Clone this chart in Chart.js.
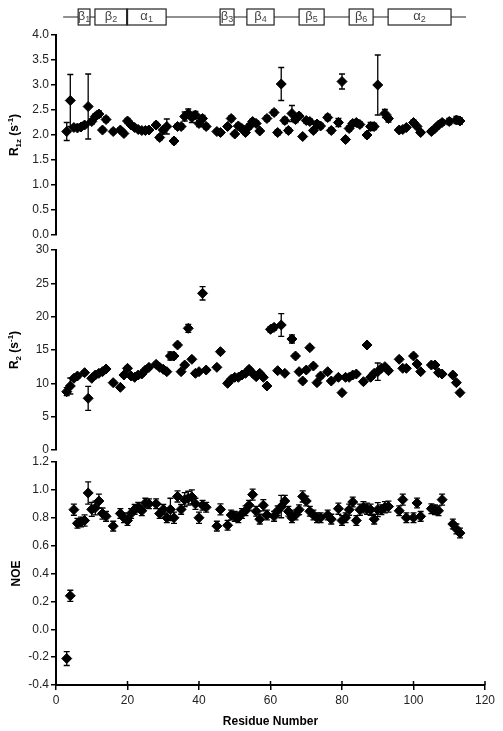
<!DOCTYPE html>
<html>
<head>
<meta charset="utf-8">
<script src="https://cdn.jsdelivr.net/npm/chart.js@4.4.0/dist/chart.umd.min.js"></script>
<style>
  body { margin: 0; background: #fff; }
  #wrap { position: relative; width: 503px; height: 731px; }
  #wrap canvas { position: absolute; left: 0; }
</style>
</head>
<body>
<div id="wrap">
  <canvas id="r1Chart" width="503" height="250" style="top:0px"></canvas>
  <canvas id="r2Chart" width="503" height="220" style="top:240px"></canvas>
  <canvas id="noeChart" width="503" height="281" style="top:450px"></canvas>
</div>
<script>
// R1z panel
const r1Res = [3,4,5,6,7,8,9,10,11,12,13,14,16,18,19,20,21,22,23,24,25,26,28,29,30,31,33,34,35,36,37,38,39,40,41,42,45,46,48,49,50,51,52,53,54,55,56,57,59,61,62,63,64,65,66,67,68,69,70,71,72,73,74,76,77,79,80,81,82,83,84,85,87,88,89,90,92,93,96,97,98,100,101,102,105,106,107,108,110,112,113];
const r1Val = [2.07,2.69,2.15,2.14,2.16,2.2,2.57,2.27,2.37,2.42,2.1,2.31,2.07,2.1,2.03,2.28,2.2,2.15,2.11,2.09,2.09,2.1,2.2,1.95,2.1,2.17,1.88,2.17,2.17,2.37,2.43,2.35,2.4,2.23,2.33,2.17,2.07,2.05,2.17,2.33,2.02,2.18,2.13,2.05,2.17,2.27,2.23,2.08,2.33,2.45,2.05,3.02,2.29,2.09,2.43,2.31,2.38,1.97,2.29,2.27,2.09,2.22,2.18,2.35,2.09,2.25,3.07,1.91,2.13,2.23,2.25,2.21,2.0,2.17,2.17,3.0,2.43,2.33,2.1,2.11,2.15,2.25,2.17,2.05,2.07,2.13,2.2,2.25,2.27,2.3,2.28];
const r1Err = [0.18,0.52,0.04,0.04,0.04,0.05,0.65,0.05,0.05,0.06,0.04,0.05,0.04,0.04,0.04,0.05,0.04,0.04,0.04,0.04,0.04,0.04,0.05,0.05,0.05,0.15,0.05,0.05,0.05,0.09,0.09,0.1,0.07,0.06,0.06,0.05,0.04,0.04,0.04,0.05,0.04,0.05,0.05,0.04,0.05,0.05,0.05,0.04,0.05,0.05,0.05,0.33,0.06,0.05,0.16,0.06,0.05,0.04,0.05,0.05,0.04,0.05,0.05,0.06,0.05,0.08,0.15,0.04,0.05,0.05,0.05,0.05,0.05,0.08,0.06,0.6,0.08,0.07,0.04,0.04,0.04,0.05,0.04,0.04,0.04,0.04,0.04,0.05,0.06,0.07,0.06];

// R2 panel
const r2Res = [3,4,5,6,8,9,10,11,12,13,14,16,18,19,20,21,22,23,24,25,26,28,29,30,31,32,33,34,35,36,37,38,39,40,41,42,45,46,48,49,50,51,52,53,54,55,56,57,58,59,60,61,62,63,64,66,67,68,69,70,71,72,73,74,76,77,79,80,81,82,83,84,86,87,88,89,90,91,92,93,96,97,98,100,101,102,105,106,107,108,111,112,113];
const r2Val = [8.75,9.6,10.75,11.1,11.6,7.75,10.75,11.25,11.5,11.75,12.15,10.1,9.4,11.25,12.25,11.1,10.9,11.25,11.4,12,12.4,12.85,12.4,12.1,11.75,14.1,14.1,15.75,11.75,12.75,18.25,13.6,11.5,11.75,23.5,12,12.4,14.75,10,10.6,10.9,10.9,11.25,11.5,12.1,11.5,11,11.5,10.9,9.6,18.1,18.4,11.9,18.75,11.5,16.65,14.1,11.75,10.35,12,15.35,12.6,10.1,11.1,11.75,10.35,10.9,8.6,10.9,10.9,11.25,11.4,10.25,15.75,10.9,11.5,11.75,12.25,12.5,11.9,13.6,12.25,12.25,14.1,12.9,11.75,12.75,12.75,11.6,11.4,11.25,10.1,8.6];
const r2Err = [0.6,1.2,0.3,0.3,0.3,1.8,0.3,0.3,0.3,0.3,0.3,0.3,0.3,0.3,0.3,0.3,0.3,0.3,0.3,0.3,0.3,0.3,0.3,0.3,0.3,0.6,0.4,0.3,0.3,0.3,0.6,0.3,0.3,0.3,1.0,0.3,0.3,0.3,0.3,0.3,0.3,0.3,0.3,0.3,0.3,0.3,0.3,0.3,0.3,0.3,0.4,0.4,0.3,1.7,0.3,0.6,0.3,0.3,0.3,0.3,0.3,0.3,0.3,0.3,0.3,0.3,0.3,0.3,0.3,0.3,0.3,0.3,0.3,0.3,0.3,0.3,1.3,0.3,0.3,0.3,0.3,0.3,0.3,0.3,0.3,0.3,0.3,0.3,0.3,0.3,0.3,0.3,0.3];

// NOE panel
const noeRes = [3,4,5,6,7,8,9,10,11,12,13,14,16,18,19,20,21,22,23,24,25,26,28,29,30,31,32,33,34,35,36,37,38,39,40,41,42,45,46,48,49,50,51,52,53,54,55,56,57,58,59,61,62,63,64,65,66,67,68,69,70,71,72,73,74,76,77,79,80,81,82,83,84,85,86,87,88,89,90,91,92,93,96,97,98,100,101,102,105,106,107,108,111,112,113];
const noeVal = [-0.21,0.24,0.858,0.76,0.77,0.78,0.978,0.86,0.87,0.92,0.83,0.81,0.74,0.83,0.80,0.78,0.83,0.86,0.875,0.85,0.905,0.9,0.9,0.83,0.86,0.8,0.86,0.8,0.953,0.86,0.93,0.94,0.95,0.9,0.8,0.89,0.875,0.74,0.86,0.746,0.82,0.81,0.80,0.83,0.85,0.89,0.966,0.846,0.79,0.89,0.82,0.81,0.85,0.88,0.92,0.846,0.80,0.82,0.858,0.953,0.92,0.846,0.82,0.80,0.8,0.82,0.79,0.865,0.78,0.80,0.858,0.913,0.78,0.858,0.875,0.865,0.858,0.79,0.858,0.858,0.875,0.88,0.85,0.93,0.80,0.80,0.906,0.81,0.865,0.858,0.85,0.93,0.755,0.72,0.69];
const noeErr = [0.05,0.04,0.04,0.035,0.035,0.04,0.08,0.05,0.05,0.05,0.04,0.035,0.035,0.035,0.035,0.035,0.035,0.035,0.035,0.035,0.035,0.035,0.035,0.035,0.035,0.035,0.08,0.04,0.04,0.035,0.05,0.05,0.05,0.04,0.04,0.035,0.035,0.035,0.04,0.035,0.035,0.035,0.035,0.035,0.035,0.035,0.04,0.035,0.035,0.04,0.035,0.035,0.035,0.08,0.04,0.035,0.035,0.035,0.035,0.04,0.035,0.035,0.035,0.035,0.035,0.035,0.035,0.04,0.035,0.035,0.04,0.035,0.035,0.04,0.04,0.04,0.04,0.035,0.05,0.035,0.04,0.04,0.035,0.04,0.035,0.035,0.035,0.035,0.035,0.035,0.035,0.04,0.035,0.035,0.035];

// secondary structure along the top
const ssLabel = ['β', 'β', 'α', 'β', 'β', 'β', 'β', 'α'];
const ssIndex = ['1', '2', '1', '3', '4', '5', '6', '2'];
const ssStart = [6.2, 10.9, 19.9, 45.9, 53.4, 68, 82, 92.9];
const ssEnd = [9.5, 19.9, 30.8, 49.8, 61, 75, 88.7, 110.5];
const ssLine = [2, 114.7];

const FONT = "'Liberation Sans', Arial, sans-serif";

const errorBars = {
  id: 'errorBars',
  beforeDatasetsDraw(chart) {
    const { ctx, scales: { x, y } } = chart;
    chart.data.datasets.forEach((ds) => {
      if (!ds.errors) return;
      ctx.save();
      ctx.strokeStyle = '#000';
      ctx.lineWidth = 1.3;
      ds.data.forEach((p, i) => {
        const e = ds.errors[i];
        const px = x.getPixelForValue(p.x);
        const top = y.getPixelForValue(p.y + e);
        const bot = y.getPixelForValue(p.y - e);
        ctx.beginPath();
        ctx.moveTo(px, top); ctx.lineTo(px, bot);
        ctx.moveTo(px - 3, top); ctx.lineTo(px + 3, top);
        ctx.moveTo(px - 3, bot); ctx.lineTo(px + 3, bot);
        ctx.stroke();
      });
      ctx.restore();
    });
  }
};

// x ticks poke a little above the axis as well
const innerTicks = {
  id: 'innerTicks',
  afterDraw(chart) {
    const x = chart.scales.x;
    if (!x.options.display) return;
    const { ctx, chartArea } = chart;
    ctx.save();
    ctx.strokeStyle = '#000';
    ctx.lineWidth = 1.5;
    x.ticks.forEach((t) => {
      const px = x.getPixelForValue(t.value);
      ctx.beginPath();
      ctx.moveTo(px, chartArea.bottom);
      ctx.lineTo(px, chartArea.bottom - 4);
      ctx.stroke();
    });
    ctx.restore();
  }
};

// rotated y title with sub/superscripts: [text, 'n'|'sub'|'sup']
const yTitle = {
  id: 'yTitle',
  afterDraw(chart, args, opts) {
    if (!opts.parts) return;
    const { ctx, chartArea } = chart;
    const big = 'bold 12px ' + FONT, small = 'bold 8px ' + FONT;
    let total = 0;
    opts.parts.forEach(([t, k]) => {
      ctx.font = k === 'n' ? big : small;
      total += ctx.measureText(t).width;
    });
    ctx.save();
    ctx.translate(opts.x, (chartArea.top + chartArea.bottom) / 2);
    ctx.rotate(-Math.PI / 2);
    ctx.fillStyle = '#000';
    ctx.textBaseline = 'middle';
    let cx = -total / 2;
    opts.parts.forEach(([t, k]) => {
      ctx.font = k === 'n' ? big : small;
      const dy = k === 'sub' ? 4 : k === 'sup' ? -4 : 0;
      ctx.fillText(t, cx, dy);
      cx += ctx.measureText(t).width;
    });
    ctx.restore();
  }
};

const structure = {
  id: 'structure',
  afterDraw(chart) {
    const { ctx } = chart;
    const x = chart.scales.x;
    const yMid = 17, h = 16;
    ctx.save();
    ctx.strokeStyle = '#222';
    ctx.lineWidth = 1.2;
    ctx.beginPath();
    ctx.moveTo(x.getPixelForValue(ssLine[0]), yMid);
    ctx.lineTo(x.getPixelForValue(ssLine[1]), yMid);
    ctx.stroke();
    ssStart.forEach((s, i) => {
      const x0 = x.getPixelForValue(s);
      const x1 = x.getPixelForValue(ssEnd[i]);
      ctx.fillStyle = '#fff';
      ctx.fillRect(x0, yMid - h / 2, x1 - x0, h);
      ctx.strokeRect(x0, yMid - h / 2, x1 - x0, h);
      ctx.fillStyle = '#444';
      ctx.font = '13px ' + FONT;
      const w1 = ctx.measureText(ssLabel[i]).width;
      ctx.font = '9px ' + FONT;
      const w2 = ctx.measureText(ssIndex[i]).width;
      const cx = (x0 + x1) / 2 - (w1 + w2) / 2;
      ctx.textBaseline = 'middle';
      ctx.font = '13px ' + FONT;
      ctx.fillText(ssLabel[i], cx, yMid - 1);
      ctx.font = '9px ' + FONT;
      ctx.fillText(ssIndex[i], cx + w1, yMid + 3);
    });
    // thicker join between beta2 and alpha1
    ctx.lineWidth = 2;
    ctx.beginPath();
    const xj = x.getPixelForValue(ssEnd[1]);
    ctx.moveTo(xj, yMid - h / 2);
    ctx.lineTo(xj, yMid + h / 2);
    ctx.stroke();
    ctx.restore();
  }
};

function toPoints(res, vals) {
  return res.map((r, i) => ({ x: r, y: vals[i] }));
}

function makePanel(id, res, vals, errs, cfg) {
  const axisLine = { display: true, width: 2, color: '#000' };
  const tickGrid = { drawOnChartArea: false, drawTicks: true, tickLength: 5, color: '#000', lineWidth: 1.5 };
  return new Chart(document.getElementById(id), {
    type: 'scatter',
    data: {
      datasets: [{
        data: toPoints(res, vals),
        errors: errs,
        pointStyle: 'rectRot',
        pointRadius: 5,
        backgroundColor: '#000',
        borderColor: '#000',
        borderWidth: 1
      }]
    },
    options: {
      responsive: false,
      animation: false,
      layout: { padding: { top: cfg.padTop, bottom: cfg.padBottom, left: 0, right: 18 } },
      plugins: {
        legend: { display: false },
        tooltip: { enabled: false },
        yTitle: { parts: cfg.title, x: cfg.titleX }
      },
      scales: {
        x: {
          type: 'linear',
          min: 0,
          max: 120,
          display: cfg.showX,
          border: axisLine,
          grid: tickGrid,
          ticks: { stepSize: 20, color: '#222', font: { family: FONT, size: 12 }, padding: 3 },
          title: { display: cfg.showX, text: 'Residue Number', color: '#000', font: { family: FONT, size: 12, weight: 'bold' }, padding: { top: 4, bottom: 0 } },
          afterFit: (s) => { if (cfg.showX) s.height = 44; }
        },
        y: {
          min: cfg.min,
          max: cfg.max,
          border: axisLine,
          grid: tickGrid,
          ticks: {
            stepSize: cfg.step,
            color: '#222',
            font: { family: FONT, size: 12 },
            padding: 2,
            callback: (v) => Number(v).toFixed(cfg.decimals)
          },
          afterFit: (s) => { s.width = 56; }
        }
      }
    },
    plugins: cfg.extra ? [errorBars, innerTicks, yTitle, cfg.extra] : [errorBars, innerTicks, yTitle]
  });
}

makePanel('r1Chart', r1Res, r1Val, r1Err, {
  min: 0, max: 4, step: 0.5, decimals: 1, padTop: 35, padBottom: 15, showX: false,
  title: [['R', 'n'], ['1z', 'sub'], [' (s', 'n'], ['-1', 'sup'], [')', 'n']], titleX: 15,
  extra: structure
});

makePanel('r2Chart', r2Res, r2Val, r2Err, {
  min: 0, max: 30, step: 5, decimals: 0, padTop: 10, padBottom: 10, showX: false,
  title: [['R', 'n'], ['2', 'sub'], [' (s', 'n'], ['-1', 'sup'], [')', 'n']], titleX: 15
});

makePanel('noeChart', noeRes, noeVal, noeErr, {
  min: -0.4, max: 1.2, step: 0.2, decimals: 1, padTop: 12, padBottom: 2, showX: true,
  title: [['NOE', 'n']], titleX: 17
});
</script>
</body>
</html>
